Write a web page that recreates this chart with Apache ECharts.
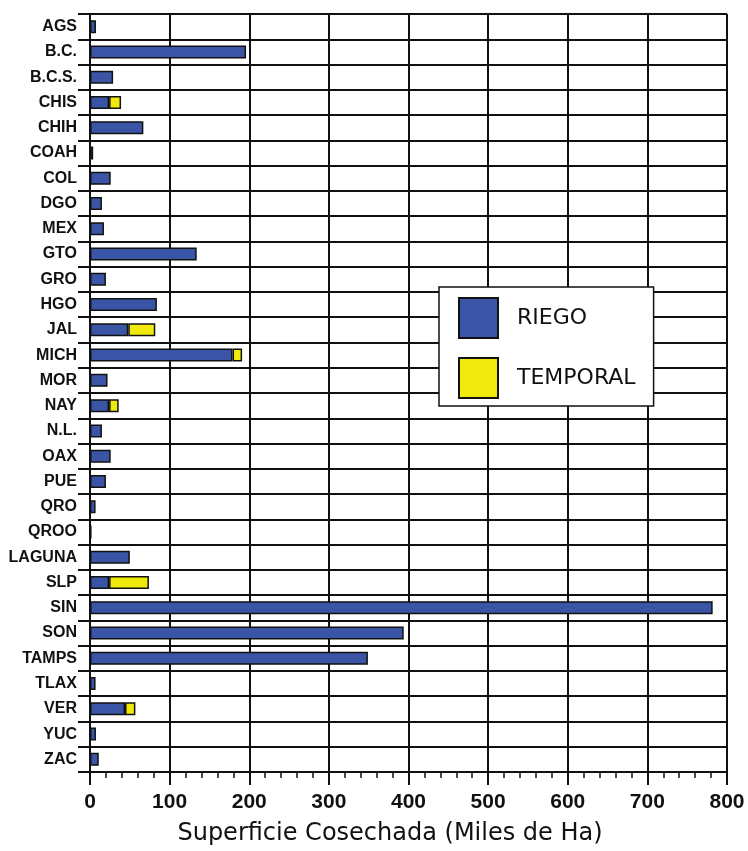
<!DOCTYPE html>
<html>
<head>
<meta charset="utf-8">
<script src="https://cdn.jsdelivr.net/npm/echarts@6/dist/echarts.min.js"></script>
<style>
html,body{margin:0;padding:0;background:#fff;}
#chart{width:748px;height:851px;}
</style>
</head>
<body>
<div id="chart"></div>
<script>
const categories = ['AGS','B.C.','B.C.S.','CHIS','CHIH','COAH','COL','DGO','MEX','GTO','GRO','HGO','JAL','MICH','MOR','NAY','N.L.','OAX','PUE','QRO','QROO','LAGUNA','SLP','SIN','SON','TAMPS','TLAX','VER','YUC','ZAC'];
const riego    = [7.5,196,29,24,67,4,26,15,17.5,134,20,84,48,179,22,24,15,26,20,7,2,50,24,782,394,349,7,44,7.5,11];
const temporal = [0,0,0,15,0,0,0,0,0,0,0,0,34,12,0,12,0,0,0,0,0,0,50,0,0,0,0,13,0,0];
const xTicks = [0,100,200,300,400,500,600,700,800];
const seriesNames = ['RIEGO','TEMPORAL'];
const axisTitle = 'Superficie Cosechada (Miles de Ha)';

const chart = echarts.init(document.getElementById('chart'));
const lineCol = '#111';
chart.setOption({
  backgroundColor: '#fff',
  animation: false,
  title: {
    text: axisTitle,
    left: 390, top: 822, textAlign: 'center', padding: 0,
    textStyle: {fontFamily: 'DejaVu Sans', fontSize: 24, fontWeight: 'normal', color: '#111'}
  },
  legend: {
    orient: 'vertical',
    left: 439, top: 287,
    padding: [10, 18, 7, 19],
    itemWidth: 39, itemHeight: 40, itemGap: 18,
    icon: 'rect',
    backgroundColor: '#fff',
    borderColor: '#111', borderWidth: 1.5, borderRadius: 0,
    data: seriesNames,
    textStyle: {fontFamily: 'DejaVu Sans', fontSize: 22, color: '#111', padding: [0,0,0,14]}
  },
  grid: {left: 90, right: 21, top: 14, bottom: 79, containLabel: false},
  xAxis: {
    type: 'value', min: xTicks[0], max: xTicks[xTicks.length-1], interval: 100,
    axisLine: {show: true, onZero: false, lineStyle: {color: lineCol, width: 2}},
    axisTick: {show: true, length: 13, lineStyle: {color: lineCol, width: 2}},
    minorTick: {show: true, splitNumber: 5, length: 6, lineStyle: {color: lineCol, width: 1.5}},
    splitLine: {show: true, lineStyle: {color: lineCol, width: 2}},
    axisLabel: {margin: 20, fontFamily: 'Liberation Sans', fontWeight: 'bold', fontSize: 21, color: '#111',
      formatter: v => xTicks.includes(v) ? String(v) : ''}
  },
  yAxis: {
    type: 'category', data: categories, inverse: true,
    axisLine: {show: true, lineStyle: {color: lineCol, width: 2}},
    axisTick: {show: true, length: 12, alignWithLabel: false, lineStyle: {color: lineCol, width: 2}},
    splitLine: {show: true, lineStyle: {color: lineCol, width: 2}},
    axisLabel: {margin: 13, fontFamily: 'Liberation Sans', fontWeight: 'bold', fontSize: 16, color: '#111', interval: 0}
  },
  series: [
    {
      name: seriesNames[0], type: 'bar', stack: 'total', data: riego, barWidth: 13,
      itemStyle: {color: '#3a55a6', borderColor: '#111', borderWidth: 1.5}
    },
    {
      name: seriesNames[1], type: 'bar', stack: 'total', data: temporal.map(v => v || null), barWidth: 13,
      itemStyle: {color: '#f0ea0c', borderColor: '#111', borderWidth: 1.5}
    }
  ]
});
</script>
</body>
</html>
